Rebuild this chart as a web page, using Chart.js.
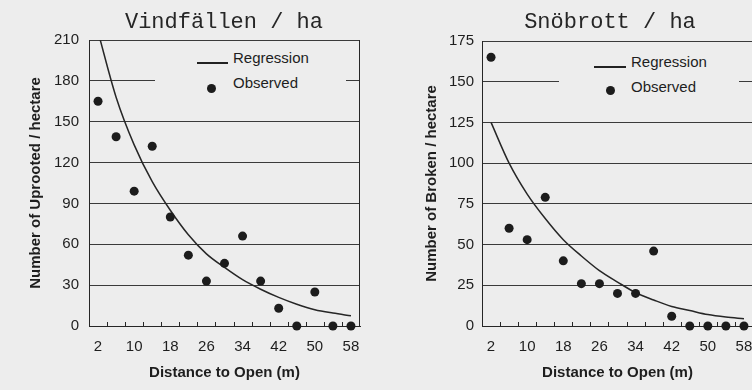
<!DOCTYPE html>
<html>
<head>
<meta charset="utf-8">
<title>Vindfällen / Snöbrott</title>
<script src="https://cdn.jsdelivr.net/npm/chart.js@4.4.1/dist/chart.umd.min.js"></script>
<style>
  body { margin: 0; width: 752px; height: 390px; overflow: hidden; position: relative;
         background: #ededed; font-family: "Liberation Sans", Arial, sans-serif; color: #1e1e1e; }
  canvas { position: absolute; top: 0; }
  .titulo { position: absolute; top: 12px; width: 300px; text-align: center; white-space: pre;
            font-family: "Liberation Mono", "Courier New", monospace; font-size: 22px; line-height: 22px; color: #262626; }
  .mascara { position: absolute; background: #ededed; }
  .leg-linha { position: absolute; height: 1.5px; background: #222; }
  .leg-ponto { position: absolute; width: 9px; height: 9px; border-radius: 50%; background: #1c1c1c; }
  .leg-texto { position: absolute; font-size: 15px; line-height: 15px; white-space: nowrap; }
</style>
</head>
<body>

<canvas id="vindfallen" width="376" height="390" style="left:0"></canvas>
<canvas id="snobrott" width="392" height="390" style="left:376px"></canvas>

<div class="titulo" style="left:74px">Vindfällen / ha</div>
<div class="titulo" style="left:460px">Snöbrott / ha</div>

<!-- legendas -->
<div class="mascara" style="left:155px;top:46px;width:191px;height:62px"></div>
<div class="leg-linha" style="left:197px;top:62px;width:31px"></div>
<div class="leg-texto" style="left:233px;top:50px">Regression</div>
<div class="leg-ponto" style="left:207px;top:84px"></div>
<div class="leg-texto" style="left:233px;top:75px">Observed</div>

<div class="mascara" style="left:559px;top:47px;width:180px;height:62px"></div>
<div class="leg-linha" style="left:594px;top:66px;width:32px"></div>
<div class="leg-texto" style="left:631px;top:54px">Regression</div>
<div class="leg-ponto" style="left:606px;top:86px"></div>
<div class="leg-texto" style="left:631px;top:79px">Observed</div>

<script>
// distance classes (m), one every 4 m
const distancia = [2, 6, 10, 14, 18, 22, 26, 30, 34, 38, 42, 46, 50, 54, 58];

// uprooted trees per hectare
const uprootedObserved = [165, 139, 99, 132, 80, 52, 33, 46, 66, 33, 13, 0, 25, 0, 0];
const uprootedRegression = [216, 168, 133, 106, 85, 67, 53, 43, 34, 27, 21, 16, 12, 9.5, 7.5];

// broken trees per hectare
const brokenObserved = [165, 60, 53, 79, 40, 26, 26, 20, 20, 46, 6, 0, 0, 0, 0];
const brokenRegression = [125, 100, 81, 66, 53, 43, 34, 27, 20.5, 16, 12, 9.5, 7, 5.5, 4.5];

// axes
const xTickLabels = [2, 10, 18, 26, 34, 42, 50, 58];
const xTickMarks = [4, 8, 12, 16, 20, 24, 28, 32, 36, 40, 44, 48, 52, 56];
const uprootedTicks = [0, 30, 60, 90, 120, 150, 180, 210];
const brokenTicks = [0, 25, 50, 75, 100, 125, 150, 175];

const fonte = '"Liberation Sans", Arial, sans-serif';
const corTexto = '#1e1e1e';

// right edge of the plot box + small tick marks on the x axis
const moldura = {
    id: 'moldura',
    beforeDatasetsDraw(chart) {
        const ctx = chart.ctx
        const a = chart.chartArea
        const x = chart.scales.x
        ctx.save()
        ctx.strokeStyle = '#262626'
        ctx.lineWidth = 1
        ctx.beginPath()
        ctx.moveTo(Math.round(a.right) - 0.5, a.top)
        ctx.lineTo(Math.round(a.right) - 0.5, a.bottom)
        for (const v of xTickMarks) {
            const px = Math.round(x.getPixelForValue(v)) + 0.5
            ctx.moveTo(px, a.bottom - 4)
            ctx.lineTo(px, a.bottom + 1)
        }
        ctx.stroke()
        ctx.restore()
    }
}

function pares(ys) {
    return distancia.map((d, i) => ({ x: d, y: ys[i] }))
}

function grafico(id, observed, regression, yTicks, yTitle, pad, yWidth, yPad) {
    const ctx = document.getElementById(id).getContext('2d')
    return new Chart(ctx, {
        type: 'scatter',
        data: {
            datasets: [{
                label: 'Regression',
                data: pares(regression),
                showLine: true,
                borderColor: '#262626',
                borderWidth: 1.5,
                pointRadius: 0,
                cubicInterpolationMode: 'monotone',
                order: 2
            }, {
                label: 'Observed',
                data: pares(observed),
                showLine: false,
                pointRadius: 4.5,
                pointBorderWidth: 0,
                backgroundColor: '#1c1c1c',
                clip: false,
                order: 1
            }]
        },
        options: {
            responsive: false,
            animation: false,
            layout: { padding: pad },
            plugins: { legend: { display: false }, tooltip: { enabled: false } },
            scales: {
                x: {
                    type: 'linear',
                    min: 0,
                    max: 60,
                    afterBuildTicks: s => { s.ticks = xTickLabels.map(v => ({ value: v })) },
                    afterFit: s => { s.height = 56 },
                    grid: { display: false, drawTicks: false },
                    border: { display: true, color: '#262626', width: 1 },
                    ticks: { padding: 12, autoSkip: false, maxRotation: 0, color: corTexto,
                             font: { family: fonte, size: 15 } },
                    title: { display: true, text: 'Distance to Open (m)', color: corTexto,
                             padding: { top: 0, bottom: 0 },
                             font: { family: fonte, size: 15, weight: 'bold' } }
                },
                y: {
                    min: 0,
                    max: yTicks[yTicks.length - 1],
                    afterBuildTicks: s => { s.ticks = yTicks.map(v => ({ value: v })) },
                    afterFit: s => { s.width = yWidth },
                    grid: { color: '#3a3a3a', lineWidth: 1, drawTicks: false },
                    border: { display: true, color: '#262626', width: 1 },
                    ticks: { padding: yPad, color: corTexto, font: { family: fonte, size: 15 } },
                    title: { display: true, text: yTitle, color: corTexto,
                             padding: { top: 17, bottom: 0 },
                             font: { family: fonte, size: 15, weight: 'bold' } }
                }
            }
        },
        plugins: [moldura]
    })
}

grafico('vindfallen', uprootedObserved, uprootedRegression, uprootedTicks,
    'Number of Uprooted / hectare', { left: 10, top: 40, right: 16, bottom: 8 }, 79, 10)
grafico('snobrott', brokenObserved, brokenRegression, brokenTicks,
    'Number of Broken / hectare', { left: 30, top: 41, right: 15, bottom: 8 }, 76, 8)
</script>
</body>
</html>
